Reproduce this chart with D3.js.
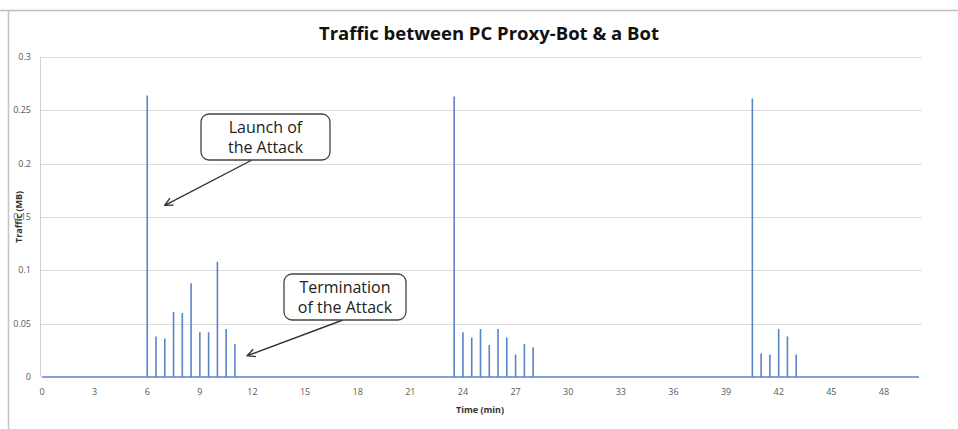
<!DOCTYPE html>
<html>
<head>
<meta charset="utf-8">
<script src="https://cdn.jsdelivr.net/npm/d3@7"></script>
<style>
  html, body { margin: 0; padding: 0; background: #fff; }
  svg { display: block; font-family: "Open Sans", "Liberation Sans", sans-serif; }
</style>
</head>
<body>
<div id="chart"></div>
<script>
// Spike times (min) and traffic (MB)
const spikeTimes = [6, 6.5, 7, 7.5, 8, 8.5, 9, 9.5, 10, 10.5, 11,
  23.5, 24, 24.5, 25, 25.5, 26, 26.5, 27, 27.5, 28,
  40.5, 41, 41.5, 42, 42.5, 43];
const spikeValues = [0.264, 0.038, 0.036, 0.061, 0.060, 0.088, 0.042, 0.042, 0.108, 0.045, 0.031,
  0.263, 0.042, 0.037, 0.045, 0.030, 0.045, 0.037, 0.021, 0.031, 0.028,
  0.261, 0.022, 0.021, 0.045, 0.038, 0.021];
const xTicks = [0, 3, 6, 9, 12, 15, 18, 21, 24, 27, 30, 33, 36, 39, 42, 45, 48];
const yTicks = [0, 0.05, 0.1, 0.15, 0.2, 0.25, 0.3];

const width = 958, height = 429;
const plot = { left: 40, right: 922, top: 57, bottom: 377 };

const svg = d3.select('#chart').append('svg')
  .attr('width', width)
  .attr('height', height);

// Outer frame (top + left edges visible)
svg.append('line').attr('x1', 0).attr('x2', width).attr('y1', 10.5).attr('y2', 10.5)
  .attr('stroke', '#bdbdbd').attr('stroke-width', 1.5);
svg.append('line').attr('x1', 8.5).attr('x2', 8.5).attr('y1', 10).attr('y2', height)
  .attr('stroke', '#c4c4c4').attr('stroke-width', 1.5);

const x = d3.scaleLinear().domain([0, 50]).range([42, 919]);
const y = d3.scaleLinear().domain([0, 0.3]).range([plot.bottom, plot.top]);

// Gridlines
svg.append('g')
  .selectAll('line')
  .data(yTicks.filter(d => d > 0))
  .enter()
  .append('line')
  .attr('x1', plot.left)
  .attr('x2', plot.right)
  .attr('y1', d => Math.round(y(d)) + 0.5)
  .attr('y2', d => Math.round(y(d)) + 0.5)
  .attr('stroke', '#dcdcdc');

// Y axis line
svg.append('line')
  .attr('x1', plot.left + 0.5).attr('x2', plot.left + 0.5)
  .attr('y1', plot.top).attr('y2', plot.bottom)
  .attr('stroke', '#d0d0d0');

// Y tick labels
svg.append('g')
  .selectAll('text')
  .data(yTicks)
  .enter()
  .append('text')
  .attr('x', 31)
  .attr('y', d => y(d))
  .attr('dy', '0.35em')
  .attr('text-anchor', 'end')
  .attr('fill', '#595959')
  .attr('font-size', '9px')
  .text(d => d);

// X tick labels
svg.append('g')
  .selectAll('text')
  .data(xTicks)
  .enter()
  .append('text')
  .attr('x', d => x(d))
  .attr('y', 395)
  .attr('text-anchor', 'middle')
  .attr('fill', '#595959')
  .attr('font-size', '9px')
  .text(d => d);

// Traffic line: baseline with vertical spikes
const pts = [[0, 0]];
spikeTimes.forEach((t, i) => {
  pts.push([t, 0], [t, spikeValues[i]], [t, 0]);
});
pts.push([50, 0]);

const line = d3.line()
  .x(d => x(d[0]))
  .y(d => y(d[1]));

svg.append('path')
  .datum(pts)
  .attr('d', line)
  .attr('fill', 'none')
  .attr('stroke', '#5a84c8')
  .attr('stroke-width', 1.6);

// Title
svg.append('text')
  .attr('x', 489)
  .attr('y', 40)
  .attr('text-anchor', 'middle')
  .attr('font-size', '18.5px')
  .attr('font-weight', 'bold')
  .attr('fill', '#111')
  .text('Traffic between PC Proxy-Bot & a Bot');

// Axis titles
svg.append('text')
  .attr('transform', `translate(22,${y(0.15)}) rotate(-90)`)
  .attr('text-anchor', 'middle')
  .attr('font-size', '9px')
  .attr('font-weight', 'bold')
  .attr('fill', '#333')
  .text('Traffic (MB)');

svg.append('text')
  .attr('x', 480)
  .attr('y', 413)
  .attr('text-anchor', 'middle')
  .attr('font-size', '9px')
  .attr('font-weight', 'bold')
  .attr('fill', '#333')
  .text('Time (min)');

// Annotations
const defs = svg.append('defs');
defs.append('marker')
  .attr('id', 'arrow')
  .attr('viewBox', '0 0 10 10')
  .attr('refX', 9).attr('refY', 5)
  .attr('markerWidth', 7).attr('markerHeight', 7)
  .attr('orient', 'auto')
  .append('path')
  .attr('d', 'M1,1 L9,5 L1,9')
  .attr('fill', 'none')
  .attr('stroke', '#333')
  .attr('stroke-width', 1.4);

const notes = [
  { lines: ['Launch of', 'the Attack'], box: [201, 114, 129, 46], from: [252, 160], to: [7, 0.161] },
  { lines: ['Termination', 'of the Attack'], box: [284, 274, 122, 46], from: [343, 320], to: [11.7, 0.02] }
];

notes.forEach(n => {
  const [bx, by, bw, bh] = n.box;
  svg.append('line')
    .attr('x1', n.from[0]).attr('y1', n.from[1])
    .attr('x2', x(n.to[0])).attr('y2', y(n.to[1]))
    .attr('stroke', '#333')
    .attr('stroke-width', 1.4)
    .attr('marker-end', 'url(#arrow)');
  svg.append('rect')
    .attr('x', bx).attr('y', by)
    .attr('width', bw).attr('height', bh)
    .attr('rx', 8)
    .attr('fill', '#fff')
    .attr('stroke', '#444')
    .attr('stroke-width', 1.3);
  n.lines.forEach((s, i) => {
    svg.append('text')
      .attr('x', bx + bw / 2)
      .attr('y', by + 19 + i * 20)
      .attr('text-anchor', 'middle')
      .attr('font-size', '16px')
      .attr('fill', '#222')
      .text(s);
  });
});
</script>
</body>
</html>
